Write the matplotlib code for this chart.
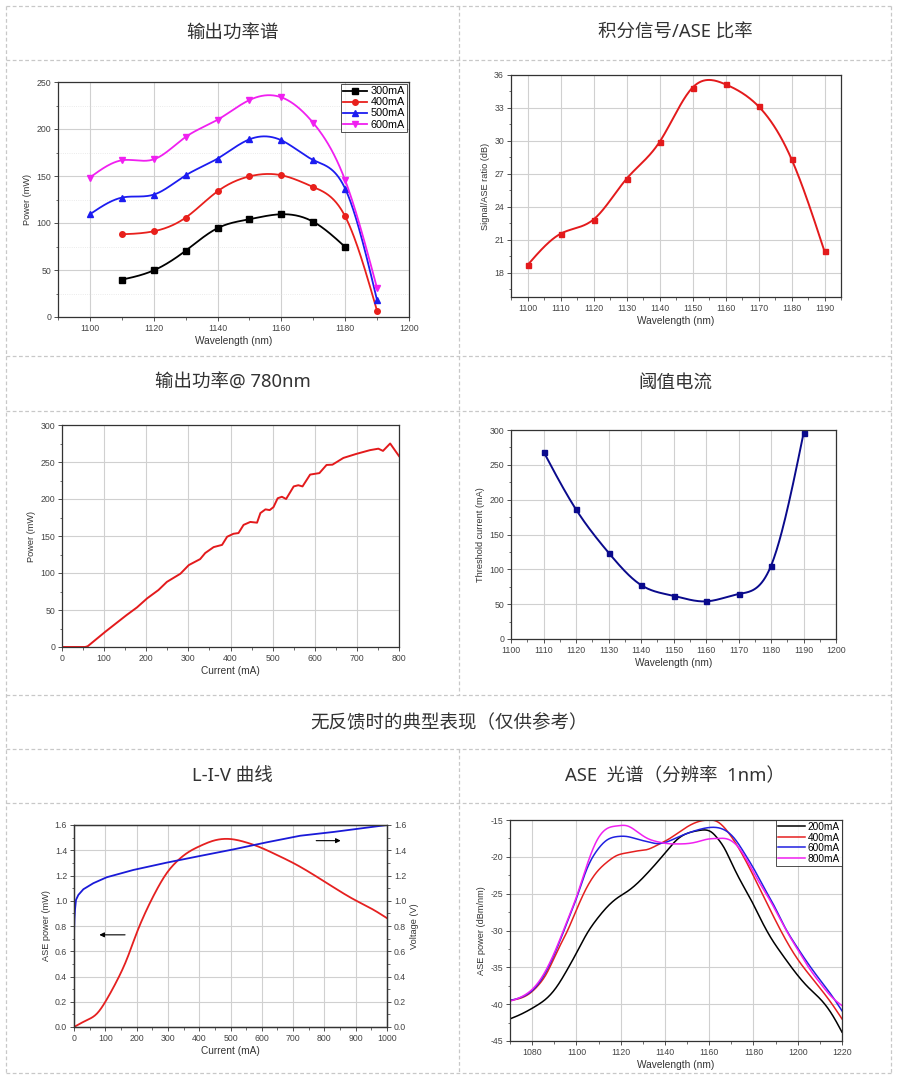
import numpy as np
import matplotlib
matplotlib.use('Agg')
import matplotlib.pyplot as plt
from matplotlib.lines import Line2D
from matplotlib.ticker import MultipleLocator, FormatStrFormatter

plt.rcParams['font.family'] = ['Liberation Sans', 'DejaVu Sans']
plt.rcParams['axes.unicode_minus'] = False
CJK = ['Noto Sans', 'Noto Sans CJK SC', 'DejaVu Sans']

# ---- data ----
# output power spectrum (mW) vs wavelength, per drive current
wl_300 = [1110, 1120, 1130, 1140, 1150, 1160, 1170, 1180]
pw_300 = [39.7, 49.6, 70.5, 94.5, 104, 109.3, 101.3, 74.5]
wl_400 = [1110, 1120, 1130, 1140, 1150, 1160, 1170, 1180, 1190]
pw_400 = [88, 91.2, 105.7, 133.7, 149.6, 150.8, 138.3, 107, 6.4]
wl_500 = [1100, 1110, 1120, 1130, 1140, 1150, 1160, 1170, 1180, 1190]
pw_500 = [109.3, 127, 130.2, 150.7, 168.5, 189, 188, 167, 136.5, 17.7]
wl_600 = [1100, 1110, 1120, 1130, 1140, 1150, 1160, 1170, 1180, 1190]
pw_600 = [148.4, 166.7, 167.7, 191.5, 209.8, 230.8, 233.7, 206.4, 145.4, 30.5]

# signal / ASE ratio
sr_wl = [1100, 1110, 1120, 1130, 1140, 1150, 1160, 1170, 1180, 1190]
sr_db = [18.7, 21.55, 22.85, 26.55, 29.9, 34.85, 35.15, 33.15, 28.35, 19.95]

# output power @ 780nm vs current
li_current = [0, 55, 61, 103, 153, 178, 202, 229, 249, 281, 301, 328, 340, 360,
              380, 392, 407, 419, 431, 447, 463, 471, 483, 493, 502, 512, 522,
              532, 550, 561, 571, 589, 611, 628, 642, 668, 699, 731, 751, 762,
              779, 800]
li_power = [0, 0, 1, 20.7, 43, 53.5, 65.7, 77, 88, 99, 110.7, 118.8, 127, 135,
            138, 149, 153, 154, 165, 169, 168, 181, 186, 185, 189, 201, 203,
            200, 217, 218.6, 217, 233, 235, 246, 246.4, 255.5, 261, 266, 268,
            265, 275, 258]

# threshold current vs wavelength
th_wl = [1110, 1120, 1130, 1140, 1150, 1160, 1170, 1180, 1190]
th_ma = [269, 186, 124, 77.5, 62, 54, 64.5, 105, 295]

# L-I-V without feedback
liv_i_p = [0, 40, 72, 104, 136, 168, 200, 232, 264, 296, 328, 360, 403, 446,
           499, 542, 595, 648, 702, 766, 829, 893, 957, 1000]
liv_power = [0, 0.053, 0.103, 0.216, 0.361, 0.532, 0.743, 0.928, 1.086, 1.218,
             1.31, 1.376, 1.434, 1.476, 1.489, 1.468, 1.423, 1.363, 1.297,
             1.205, 1.107, 1.012, 0.928, 0.862]
liv_i_v = [0, 1.5, 3.2, 6.4, 13.9, 29.9, 61.8, 104.5, 189.8, 296.4, 403, 509.6,
           616.2, 722.8, 829.4, 1000]
liv_voltage = [0.74, 0.86, 0.93, 1.007, 1.046, 1.091, 1.139, 1.186, 1.244,
               1.302, 1.355, 1.407, 1.463, 1.515, 1.545, 1.6]

# ASE spectrum (1nm resolution)
ase_wl_200 = [1070, 1074, 1078, 1082, 1086.6, 1091.2, 1095.7, 1100.3, 1104.8,
              1109.4, 1113.9, 1118.4, 1123.0, 1127.5, 1132.1, 1136.6, 1141.1,
              1145.7, 1150.2, 1154.8, 1157.8, 1160.8, 1163.8, 1166.9, 1169.9,
              1174.4, 1179.0, 1183.5, 1188.1, 1192.6, 1198.7, 1204.7, 1210.8,
              1215.3, 1220]
ase_200 = [-42.0, -41.5, -40.9, -40.2, -39.2, -37.6, -35.4, -32.9, -30.4, -28.4,
           -26.8, -25.6, -24.7, -23.6, -22.2, -20.7, -19.1, -17.6, -16.8,
           -16.45, -16.35, -16.6, -17.5, -18.85, -20.7, -23.4, -25.9, -28.6,
           -31.1, -33.1, -35.6, -37.7, -39.5, -41.3, -43.8]
ase_wl_400 = [1070, 1077.6, 1082.9, 1086.6, 1091.2, 1095.7, 1100.3, 1104.8,
              1109.4, 1113.9, 1118.4, 1123.0, 1127.5, 1132.1, 1136.6, 1141.1,
              1145.7, 1150.2, 1154.8, 1159.3, 1163.8, 1168.4, 1172.9, 1177.5,
              1182.0, 1186.5, 1191.1, 1195.6, 1200.2, 1204.7, 1210.8, 1215.3,
              1220]
ase_400 = [-39.5, -38.8, -37.4, -35.8, -32.9, -30.2, -27.0, -24.1, -22.0, -20.7,
           -19.8, -19.45, -19.2, -19.0, -18.4, -17.7, -16.8, -15.9, -15.25,
           -15.0, -15.25, -16.6, -18.6, -21.1, -23.8, -26.55, -29.3, -31.8,
           -34.0, -35.8, -38.1, -39.9, -42.0]
ase_wl_600 = [1070, 1082.9, 1091.2, 1095.7, 1100.3, 1104.8, 1109.4, 1113.9,
              1118.4, 1123.0, 1127.5, 1132.1, 1136.6, 1141.1, 1145.7, 1150.2,
              1154.8, 1160.8, 1166.9, 1171.4, 1175.9, 1180.5, 1185.0, 1189.6,
              1194.1, 1198.7, 1204.7, 1210.8, 1215.3, 1220]
ase_600 = [-39.5, -37.2, -32.4, -29.0, -25.4, -21.6, -19.1, -17.7, -17.25,
           -17.25, -17.6, -17.95, -18.2, -17.95, -17.35, -16.8, -16.35, -16.0,
           -16.35, -17.5, -19.5, -21.8, -24.3, -26.8, -29.5, -31.8, -34.5,
           -37.0, -38.8, -40.9]
ase_wl_800 = [1070, 1082.9, 1091.2, 1095.7, 1100.3, 1104.8, 1109.4, 1113.9,
              1118.4, 1123.0, 1127.5, 1132.1, 1136.6, 1141.1, 1145.7, 1150.2,
              1154.8, 1159.3, 1163.8, 1168.4, 1172.9, 1177.5, 1182.0, 1186.5,
              1191.1, 1195.6, 1200.2, 1204.7, 1210.8, 1215.3, 1220]
ase_800 = [-39.6, -37.0, -32.2, -28.8, -25.2, -21.1, -17.7, -16.15, -15.8,
           -15.8, -16.6, -17.5, -17.95, -18.2, -18.25, -18.2, -17.95, -17.6,
           -17.5, -17.6, -18.6, -20.7, -23.15, -25.4, -27.9, -30.4, -32.7,
           -34.9, -37.4, -39.0, -40.2]

headers = ['输出功率谱', '积分信号/ASE 比率', '输出功率@ 780nm', '阈值电流',
           '无反馈时的典型表现（仅供参考）', 'L-I-V 曲线', 'ASE  光谱（分辨率  1nm）']

W, H = 908, 1080
fig = plt.figure(figsize=(9.08, 10.8), dpi=100)


def spline(x, y, n=300):
    # natural cubic spline, used only to draw the smooth connecting line
    x = np.asarray(x, float)
    y = np.asarray(y, float)
    k = len(x)
    h = np.diff(x)
    A = np.zeros((k, k))
    b = np.zeros(k)
    A[0, 0] = A[-1, -1] = 1
    for i in range(1, k - 1):
        A[i, i - 1] = h[i - 1]
        A[i, i] = 2 * (h[i - 1] + h[i])
        A[i, i + 1] = h[i]
        b[i] = 6 * ((y[i + 1] - y[i]) / h[i] - (y[i] - y[i - 1]) / h[i - 1])
    M = np.linalg.solve(A, b)
    xs = np.linspace(x[0], x[-1], n)
    j = np.clip(np.searchsorted(x, xs) - 1, 0, k - 2)
    t1 = x[j + 1] - xs
    t0 = xs - x[j]
    ys = (M[j] * t1 ** 3 + M[j + 1] * t0 ** 3) / (6 * h[j]) \
        + (y[j] / h[j] - M[j] * h[j] / 6) * t1 \
        + (y[j + 1] / h[j] - M[j + 1] * h[j] / 6) * t0
    return xs, ys


def px_axes(x0, y0, x1, y1):
    return fig.add_axes([x0 / W, 1 - y1 / H, (x1 - x0) / W, (y1 - y0) / H])


def style(ax, xmaj, xmin, ymaj, ymin, ygrid_minor=False):
    ax.xaxis.set_major_locator(MultipleLocator(xmaj))
    ax.xaxis.set_minor_locator(MultipleLocator(xmin))
    ax.yaxis.set_major_locator(MultipleLocator(ymaj))
    ax.yaxis.set_minor_locator(MultipleLocator(ymin))
    ax.tick_params(which='both', direction='out', labelsize=6.3, labelcolor='#444444',
                   color='#333333', pad=2)
    ax.tick_params(which='major', length=3, width=0.6)
    ax.tick_params(which='minor', length=1.8, width=0.5)
    ax.grid(True, which='major', color='#d0d0d0', lw=0.8)
    if ygrid_minor:
        ax.grid(True, which='minor', axis='y', color='#e4e4e4', lw=0.6, ls=':')
    for s in ax.spines.values():
        s.set_color('#333333')
        s.set_linewidth(0.9)
    ax.set_axisbelow(True)


def labels(ax, xl, yl):
    ax.set_xlabel(xl, fontsize=7.3, color='#333333', labelpad=2)
    ax.set_ylabel(yl, fontsize=6.6, color='#333333', labelpad=3)


# ---- table frame and headers ----
bg = fig.add_axes([0, 0, 1, 1], zorder=-5)
bg.set_xlim(0, W)
bg.set_ylim(H, 0)
bg.axis('off')
ls_kw = dict(color='#c8c8c8', lw=0.9, ls=(0, (3, 2)))
for yy in [6, 60, 356, 411, 695, 749, 803, 1073]:
    bg.plot([6, 891], [yy, yy], **ls_kw)
for xx in [6, 891]:
    bg.plot([xx, xx], [6, 1073], **ls_kw)
bg.plot([459, 459], [6, 695], **ls_kw)
bg.plot([459, 459], [749, 1073], **ls_kw)

hk = dict(family=CJK, fontsize=13.3, color='#333333', ha='center', va='center')
bg.text(232.5, 33, headers[0], **hk)
bg.text(675, 33, headers[1], **hk)
bg.text(232.5, 383, headers[2], **hk)
bg.text(675, 383, headers[3], **hk)
bg.text(448.5, 722, headers[4], **hk)
bg.text(232.5, 776, headers[5], **hk)
bg.text(675, 776, headers[6], **hk)

# ---- panel 1: output power spectrum ----
ax1 = px_axes(58, 82, 409, 317)
series1 = [(wl_300, pw_300, 'black', 's', '300mA'),
           (wl_400, pw_400, '#e8201c', 'o', '400mA'),
           (wl_500, pw_500, '#1c1cf0', '^', '500mA'),
           (wl_600, pw_600, '#f020f0', 'v', '600mA')]
handles = []
for x, y, c, m, lab in series1:
    xs, ys = spline(x, y)
    ax1.plot(xs, ys, color=c, lw=1.3)
    ax1.plot(x, y, ls='none', marker=m, color=c, ms=4)
    handles.append(Line2D([], [], color=c, lw=1.3, marker=m, ms=4, label=lab))
ax1.set_xlim(1090, 1200)
ax1.set_ylim(0, 250)
style(ax1, 20, 10, 50, 25, ygrid_minor=True)
labels(ax1, 'Wavelength (nm)', 'Power (mW)')
leg = ax1.legend(handles=handles, loc='upper right', fontsize=7.8, frameon=True,
                 fancybox=False, edgecolor='#222222', borderpad=0.25,
                 labelspacing=0.1, handlelength=2.2, handletextpad=0.3,
                 borderaxespad=0.15)
leg.get_frame().set_linewidth(0.7)

# ---- panel 2: signal / ASE ratio ----
ax2 = px_axes(511, 75, 841, 297)
xs, ys = spline(sr_wl, sr_db)
ax2.plot(xs, ys, color='#e31a1c', lw=1.4)
ax2.plot(sr_wl, sr_db, ls='none', marker='s', color='#e31a1c', ms=3.6)
ax2.set_xlim(1095, 1195)
ax2.set_ylim(15.8, 36)
style(ax2, 10, 5, 3, 1.5)
labels(ax2, 'Wavelength (nm)', 'Signal/ASE ratio (dB)')

# ---- panel 3: output power @ 780nm ----
ax3 = px_axes(62, 425, 399, 647)
ax3.plot(li_current, li_power, color='#e31a1c', lw=1.4)
ax3.set_xlim(0, 800)
ax3.set_ylim(0, 300)
style(ax3, 100, 50, 50, 25)
labels(ax3, 'Current (mA)', 'Power (mW)')

# ---- panel 4: threshold current ----
ax4 = px_axes(511, 430, 836, 639)
xs, ys = spline(th_wl, th_ma)
ax4.plot(xs, ys, color='#0a0a8c', lw=1.4)
ax4.plot(th_wl, th_ma, ls='none', marker='s', color='#0a0a8c', ms=3.6)
ax4.set_xlim(1100, 1200)
ax4.set_ylim(0, 300)
style(ax4, 10, 5, 50, 25)
labels(ax4, 'Wavelength (nm)', 'Threshold current (mA)')

# ---- panel 5: L-I-V ----
ax5 = px_axes(74, 825, 387, 1027)
xs, ys = spline(liv_i_p, liv_power)
ax5.plot(xs, ys, color='#e52020', lw=1.3)
ax5.set_xlim(0, 1000)
ax5.set_ylim(0, 1.6)
style(ax5, 100, 50, 0.2, 0.1)
ax5.yaxis.set_major_formatter(FormatStrFormatter('%.1f'))
labels(ax5, 'Current (mA)', 'ASE power (mW)')
ax5b = ax5.twinx()
ax5b.plot(liv_i_v, liv_voltage, color='#1a1ad8', lw=1.3)
ax5b.set_ylim(0, 1.6)
ax5b.yaxis.set_major_locator(MultipleLocator(0.2))
ax5b.yaxis.set_minor_locator(MultipleLocator(0.1))
ax5b.yaxis.set_major_formatter(FormatStrFormatter('%.1f'))
ax5b.tick_params(which='both', direction='out', labelsize=6.3, labelcolor='#444444',
                 color='#333333', pad=2)
ax5b.tick_params(which='major', length=3, width=0.6)
ax5b.tick_params(which='minor', length=1.8, width=0.5)
ax5b.set_ylabel('Voltage (V)', fontsize=6.6, color='#333333', labelpad=3)
for s in ax5b.spines.values():
    s.set_color('#333333')
    s.set_linewidth(0.9)
arrow = dict(arrowstyle='-|>', color='black', lw=0.8, mutation_scale=7)
ax5.annotate('', xy=(72, 0.73), xytext=(172, 0.73), arrowprops=arrow)
ax5.annotate('', xy=(861, 1.476), xytext=(765, 1.476), arrowprops=arrow)

# ---- panel 6: ASE spectrum ----
ax6 = px_axes(510, 820, 842, 1041)
series6 = [(ase_wl_200, ase_200, 'black', '200mA'),
           (ase_wl_400, ase_400, '#e52020', '400mA'),
           (ase_wl_600, ase_600, '#2020e0', '600mA'),
           (ase_wl_800, ase_800, '#f020f0', '800mA')]
for x, y, c, lab in series6:
    xs, ys = spline(x, y, n=600)
    ax6.plot(xs, ys, color=c, lw=1.1, label=lab)
ax6.set_xlim(1070, 1220)
ax6.set_ylim(-45, -15)
style(ax6, 20, 10, 5, 2.5)
labels(ax6, 'Wavelength (nm)', 'ASE power (dBm/nm)')
leg6 = ax6.legend(loc='upper right', fontsize=7.3, frameon=True, fancybox=False,
                  edgecolor='#222222', borderpad=0.2, labelspacing=0.05,
                  handlelength=2.6, handletextpad=0.3, borderaxespad=0.0)
leg6.get_frame().set_linewidth(0.7)

fig.savefig('out.png', dpi=100)
